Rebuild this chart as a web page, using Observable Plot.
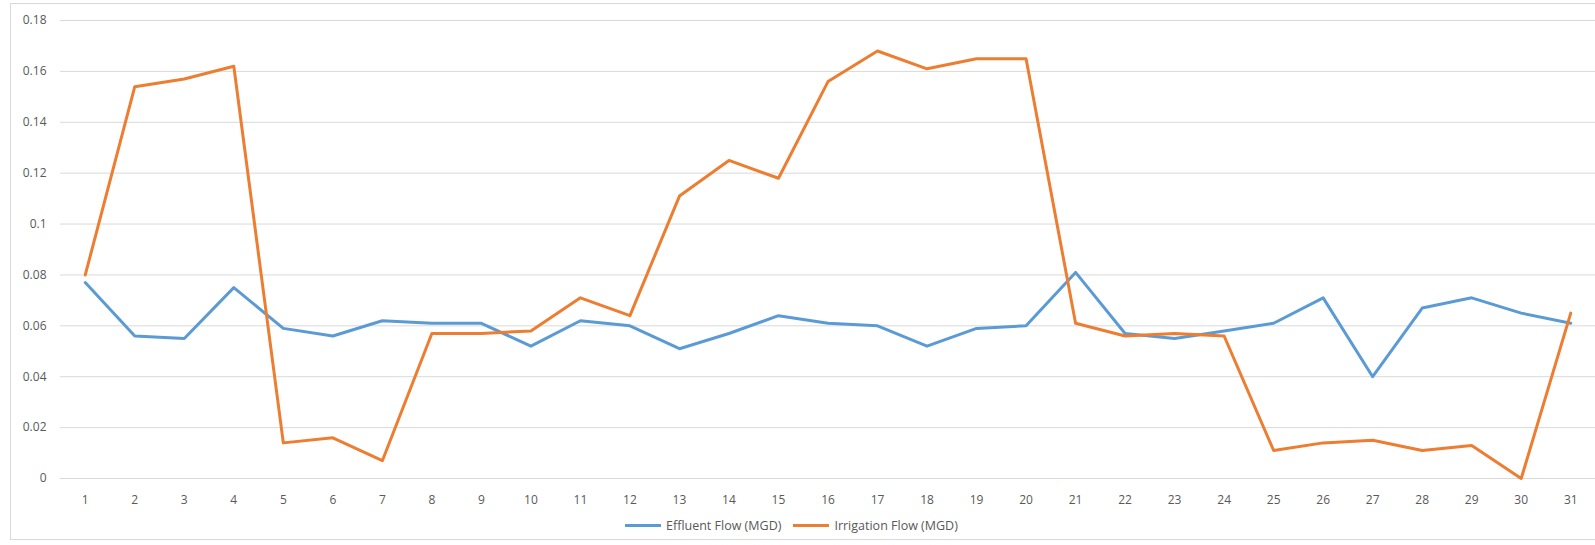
<!DOCTYPE html>
<html>
<head>
<meta charset="utf-8">
<script src="https://cdn.jsdelivr.net/npm/d3@7"></script>
<script src="https://cdn.jsdelivr.net/npm/@observablehq/plot@0.6"></script>
<style>
  html, body { margin: 0; padding: 0; background: #ffffff; }
  #wrap { position: relative; width: 1595px; height: 545px; overflow: hidden; }
  #frame { position: absolute; left: 10px; top: 3px; width: 1600px; height: 537px;
           border: 1px solid #d9d9d9; box-sizing: border-box; pointer-events: none; }
  #chart { position: absolute; left: 0; top: 0; }
  #legend { position: absolute; top: 517px; left: 625px; display: flex; align-items: center;
            font-family: "Open Sans", sans-serif; font-size: 12.5px; color: #595959; white-space: nowrap; }
  .item { display: flex; align-items: center; margin-right: 12px; }
  .swatch { width: 36px; height: 3px; margin-right: 5px; }
</style>
</head>
<body>
<div id="wrap">
  <div id="frame"></div>
  <div id="chart"></div>
  <div id="legend"></div>
</div>
<script>
// Day of month
const days = [1, 2, 3, 4, 5, 6, 7, 8, 9, 10, 11, 12, 13, 14, 15, 16,
              17, 18, 19, 20, 21, 22, 23, 24, 25, 26, 27, 28, 29, 30, 31];

// Daily flows, million gallons per day
const effluentFlow = [0.077, 0.056, 0.055, 0.075, 0.059, 0.056, 0.062, 0.061, 0.061, 0.052,
                      0.062, 0.060, 0.051, 0.057, 0.064, 0.061, 0.060, 0.052, 0.059, 0.060,
                      0.081, 0.057, 0.055, 0.058, 0.061, 0.071, 0.040, 0.067, 0.071, 0.065, 0.061];
const irrigationFlow = [0.080, 0.154, 0.157, 0.162, 0.014, 0.016, 0.007, 0.057, 0.057, 0.058,
                        0.071, 0.064, 0.111, 0.125, 0.118, 0.156, 0.168, 0.161, 0.165, 0.165,
                        0.061, 0.056, 0.057, 0.056, 0.011, 0.014, 0.015, 0.011, 0.013, 0.000, 0.065];

const seriesNames = ["Effluent Flow (MGD)", "Irrigation Flow (MGD)"];
const seriesColors = ["#5b9bd5", "#ed7d31"];
const yTicks = [0, 0.02, 0.04, 0.06, 0.08, 0.1, 0.12, 0.14, 0.16, 0.18];

// Long-format rows for the line mark
const rows = [];
days.forEach((d, i) => {
  rows.push({day: d, value: effluentFlow[i], series: seriesNames[0]});
  rows.push({day: d, value: irrigationFlow[i], series: seriesNames[1]});
});

const chart = Plot.plot({
  width: 1595,
  height: 510,
  marginLeft: 60,
  marginRight: 0,
  marginTop: 20,
  marginBottom: 32,
  style: {fontFamily: "Open Sans, sans-serif", fontSize: "12px", color: "#595959", background: "transparent"},
  x: {type: "point", domain: days, padding: 0.5, round: false, label: null},
  y: {domain: [0, 0.18], label: null},
  color: {domain: seriesNames, range: seriesColors},
  marks: [
    Plot.gridY(yTicks, {stroke: "#d9d9d9", strokeOpacity: 1, strokeWidth: 1}),
    Plot.axisY(yTicks, {tickSize: 0, tickPadding: 14, tickFormat: d => String(+d.toFixed(2)), label: null}),
    Plot.axisX(days, {tickSize: 0, tickPadding: 17, label: null}),
    Plot.line(rows, {x: "day", y: "value", z: "series", stroke: "series",
                     strokeWidth: 3, strokeLinejoin: "round", strokeLinecap: "round"})
  ]
});
document.getElementById("chart").appendChild(chart);

// Legend with line swatches
const legend = document.getElementById("legend");
seriesNames.forEach((name, i) => {
  const item = document.createElement("div");
  item.className = "item";
  const sw = document.createElement("div");
  sw.className = "swatch";
  sw.style.background = seriesColors[i];
  const label = document.createElement("span");
  label.textContent = name;
  item.appendChild(sw);
  item.appendChild(label);
  legend.appendChild(item);
});
</script>
</body>
</html>
